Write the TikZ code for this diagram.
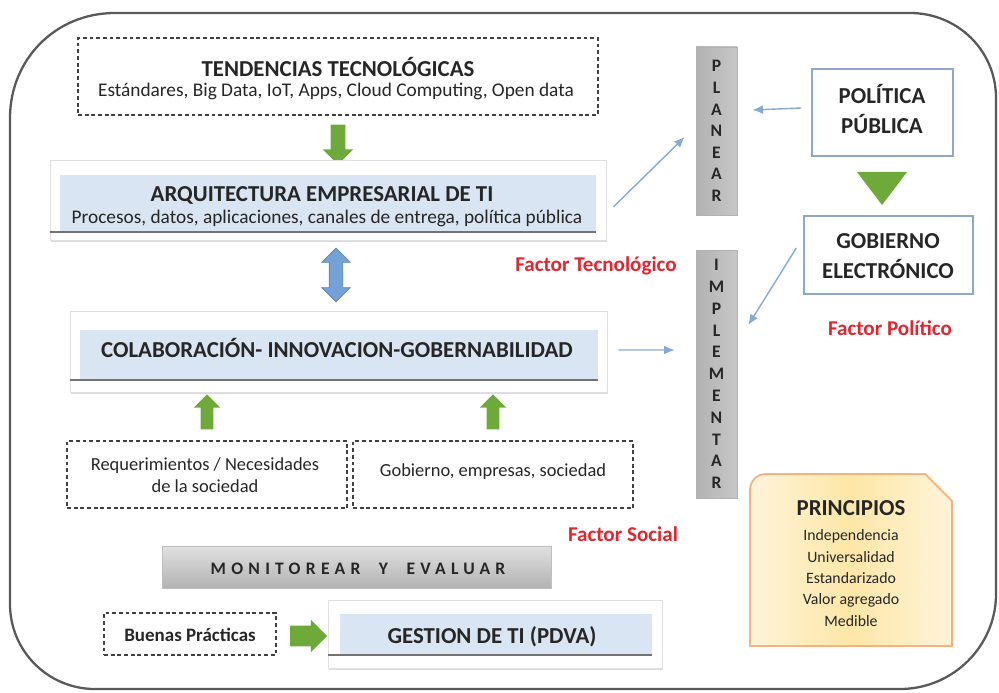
\documentclass[tikz,border=0pt]{standalone}
\usepackage{fontspec}
\setmainfont{Carlito}
\usetikzlibrary{shapes.arrows,shadows,arrows.meta}

\definecolor{celeste}{HTML}{D9E5F2}
\definecolor{verde}{HTML}{6EAA3A}
\definecolor{azulfl}{HTML}{74A2D6}
\definecolor{azulfino}{HTML}{86AAD6}
\definecolor{rojo}{HTML}{E2252E}
\definecolor{texto}{HTML}{262626}
\definecolor{bordeazul}{HTML}{8FA8C8}
\definecolor{naranja}{HTML}{F5B27E}
\definecolor{amarillo}{HTML}{FDE6A6}
\definecolor{crema}{HTML}{FFF4DA}

\newcommand{\pxu}{0.02cm}

\begin{document}
\begin{tikzpicture}[x=0.02cm, y=-0.02cm, text=texto,
  caja/.style={draw=black!75, dash pattern=on 2.2pt off 1.6pt, line width=0.8pt},
  marco/.style={fill=white, draw=black!12, drop shadow={opacity=0.3, shadow xshift=0.6pt, shadow yshift=-1.2pt}},
  azulbox/.style={fill=celeste},
  barra/.style={left color=black!30, right color=black!22, draw=black!30, align=center, font=\bfseries\fontsize{10}{12.3}\selectfont},
  recuadro/.style={draw=bordeazul, line width=0.8pt},
  titulo/.style={font=\bfseries\fontsize{13}{15}\selectfont, inner sep=0pt},
  sub/.style={font=\fontsize{11}{13}\selectfont, inner sep=0pt},
  chico/.style={font=\fontsize{10.5}{12.5}\selectfont, inner sep=0pt},
  factor/.style={text=rojo, font=\bfseries\fontsize{12}{14}\selectfont, inner sep=0pt},
  flechav/.style={single arrow, fill=verde, inner sep=0.14cm, single arrow head extend=0.16cm, minimum height=0.8cm},
  fina/.style={-{Latex[length=6pt,width=5pt]}, draw=azulfino, line width=0.8pt}]
\useasboundingbox (0,0) rectangle (999,692);

% marco exterior
\draw[line width=1.3pt, black!65] (10,118) .. controls (10,60) and (55,13) .. (115,13) -- (910,13)
  .. controls (957,13) and (996,50) .. (996,98) -- (996,594) .. controls (996,646) and (953,689) .. (900,689)
  -- (95,689) .. controls (48,689) and (10,651) .. (10,604) -- cycle;

\node[caja, minimum width=520*\pxu, minimum height=77*\pxu] (tend) at (338,76.5) {};
\node[titulo, anchor=base] (tend1) at (338,77) {TENDENCIAS TECNOLÓGICAS};
\node[sub, anchor=base] (tend2) at (336,97) {Estándares, Big Data, IoT, Apps, Cloud Computing, Open data};

\node[flechav, shape border rotate=270] (fl1) at (338,141) {};

\node[marco, minimum width=556*\pxu, minimum height=80*\pxu] (arq) at (328,200) {};
\node[azulbox, minimum width=536*\pxu, minimum height=57*\pxu] (arqin) at (328,203.5) {};
\draw[black!55, line width=1pt] (arq.west |- arqin.south) -- (arqin.south east);
\node[titulo, anchor=base] (arq1) at (322,202) {ARQUITECTURA EMPRESARIAL DE TI};
\node[sub, anchor=base] (arq2) at (327,224) {Procesos, datos, aplicaciones, canales de entrega, política pública};

\node[double arrow, fill=azulfl, draw=azulfl!80!black, inner sep=0.13cm, double arrow head extend=0.15cm,
  minimum height=1.08cm, shape border rotate=90] (dbl) at (336,275) {};

\node[marco, minimum width=537*\pxu, minimum height=81*\pxu] (col) at (338.5,351.5) {};
\node[azulbox, minimum width=518*\pxu, minimum height=50*\pxu] (colin) at (339,355) {};
\draw[black!55, line width=1pt] (col.west |- colin.south) -- (colin.south east);
\node[titulo, anchor=base] (col1) at (337,357) {COLABORACIÓN- INNOVACION-GOBERNABILIDAD};

\node[flechav, minimum height=0.7cm, inner sep=0.12cm, single arrow head extend=0.14cm, shape border rotate=90] (fl2) at (207,415) {};
\node[flechav, minimum height=0.7cm, inner sep=0.12cm, single arrow head extend=0.14cm, shape border rotate=90] (fl3) at (493,415) {};

\node[caja, minimum width=280*\pxu, minimum height=67*\pxu] (req) at (207,474.5) {};
\node[chico, anchor=base] (req1) at (205,470) {Requerimientos / Necesidades};
\node[chico, anchor=base] (req2) at (205,492) {de la sociedad};
\node[caja, minimum width=280*\pxu, minimum height=67*\pxu] (gob) at (493,474.5) {};
\node[chico, anchor=base] (gob1) at (493,476) {Gobierno, empresas, sociedad};

\node[factor, anchor=base] (fsoc) at (623,541) {Factor Social};

\node[top color=black!12, bottom color=black!30, draw=black!25, minimum width=389*\pxu, minimum height=42*\pxu] (mon) at (356.5,567) {};
\node[font=\bfseries\fontsize{10}{12}\selectfont\addfontfeature{LetterSpace=30}, inner sep=0pt, anchor=base] (mon1) at (358,574) {MONITOREAR\ \ Y\ \ EVALUAR};

\node[caja, minimum width=172*\pxu, minimum height=42*\pxu] (buen) at (190,634) {};
\node[font=\bfseries\fontsize{10.8}{13}\selectfont, inner sep=0pt, anchor=base] (buen1) at (190,641) {Buenas Prácticas};
\node[flechav, minimum height=0.74cm, inner sep=0.2cm, single arrow head extend=0.12cm] (fl4) at (303.5,636) {};

\node[marco, minimum width=334*\pxu, minimum height=68*\pxu] (gest) at (495,634) {};
\node[azulbox, minimum width=312*\pxu, minimum height=41*\pxu] (gestin) at (496,634.5) {};
\draw[black!55, line width=1pt] (gest.west |- gestin.south) -- (gestin.south east);
\node[titulo, anchor=base] (gest1) at (492,643) {GESTION DE TI (PDVA)};

\node[barra, minimum width=41*\pxu, minimum height=168*\pxu] (plan) at (716.5,131) {P\\L\\A\\N\\E\\A\\R};
\node[barra, minimum width=41*\pxu, minimum height=248*\pxu, font=\bfseries\fontsize{10}{12.4}\selectfont] (impl) at (716.5,374) {I\\M\\P\\L\\E\\M\\E\\N\\T\\A\\R};

\node[recuadro, minimum width=141*\pxu, minimum height=87*\pxu] (pol) at (882.5,112.5) {};
\node[titulo, align=center, font=\bfseries\fontsize{13}{17}\selectfont] (pol1) at (882,109) {POLÍTICA\\PÚBLICA};
\fill[verde] (857,172) -- (907,172) -- (882,205) -- cycle;
\node[recuadro, minimum width=169*\pxu, minimum height=78*\pxu] (gobel) at (888.5,255) {};
\node[titulo, align=center, font=\bfseries\fontsize{13}{17}\selectfont] (gobel1) at (888,256) {GOBIERNO\\ELECTRÓNICO};

\node[factor, anchor=base] (ftec) at (596,272) {Factor Tecnológico};
\node[factor, anchor=base] (fpol) at (890,335) {Factor Político};

% principios
\draw[draw=naranja, line width=1pt, left color=crema, right color=crema, middle color=amarillo]
  (750,490) .. controls (750,481) and (757,474) .. (766,474) -- (925,474) -- (952,501) -- (952,646) -- (750,646) -- cycle;
\node[titulo, anchor=base] (prin) at (851,515) {PRINCIPIOS};
\node[align=center, font=\fontsize{9}{12.2}\selectfont, inner sep=0pt] (prin1) at (851,578)
  {Independencia\\Universalidad\\Estandarizado\\Valor agregado\\Medible};

\draw[fina] ([xshift=0.14cm, yshift=-0.14cm]arq.east) -- ([xshift=-0.22cm, yshift=-0.12cm]plan.west);
\draw[fina] ([xshift=-0.2cm, yshift=0.09cm]pol.west) -- ([xshift=0.3cm, yshift=0.42cm]plan.east);
\draw[fina] ([xshift=-0.14cm, yshift=0.14cm]gobel.west) -- ([xshift=0.22cm, yshift=0.98cm]impl.east);
\draw[fina] ([xshift=0.22cm, yshift=0.03cm]col.east) -- ([xshift=-0.42cm, yshift=0.48cm]impl.west);
\end{tikzpicture}
\end{document}
